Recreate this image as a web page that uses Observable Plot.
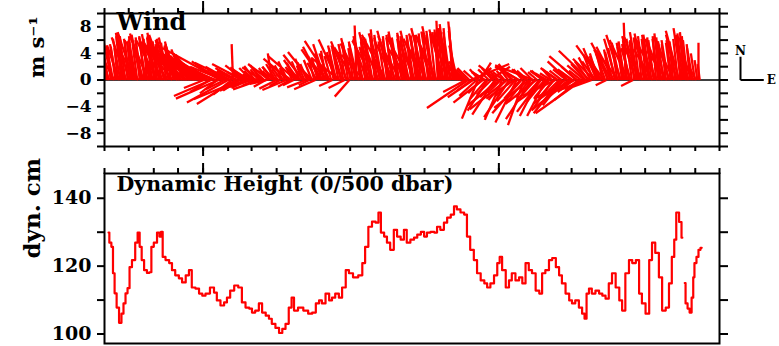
<!DOCTYPE html>
<html>
<head>
<meta charset="utf-8">
<script src="https://cdn.jsdelivr.net/npm/d3@7"></script>
<script src="https://cdn.jsdelivr.net/npm/@observablehq/plot@0.6"></script>
<style>
  body { margin: 0; background: #fff; }
  #chart svg { display: block; }
</style>
</head>
<body>
<div id="chart"></div>
<script>
// Record period (UTC)
const startDate = new Date(Date.UTC(1991, 8, 1));
const endDate = new Date(Date.UTC(1993, 9, 1));

// Wind sticks (m/s): one every 3 days from the start of the record ...
const windStepDays = 3;
const windV = [
  7.2, 6.8, 5.0, 5.6, 4.8, 5.4, 5.2, 6.6, 7.1, 6.4,
  6.9, 5.8, 7.2, 6.1, 4.5, 6.8, 7.0, 5.5, 6.3, 6.9,
  6.4, 7.1, 5.9, 6.6, 4.9, 6.8, 5.7, 6.2, 5.1, 6.0,
  5.8, 4.6, 5.5, 3.9, 5.2, 4.4, 3.1, 4.8, 2.6, 4.1,
  3.8, -1.2, 4.6, 2.2, -2.4, 3.5, 1.4, -2.8, 4.8, 2.0,
  1.8, -3.4, 2.6, 5.4, -3.6, 1.2, -2.9, 2.4, -1.6, 1.9,
  1.6, -1.0, 2.1, 0.8, -1.4, 1.9, 1.2, -0.6, 2.4, 4.0,
  2.0, -1.3, 1.4, 2.6, 0.9, -1.5, 3.2, 1.7, -0.8, 3.6,
  3.0, 1.2, 3.8, -1.1, 2.6, 4.2, 1.8, -1.4, 3.4, 5.0,
  4.6, 5.4, 2.8, 5.9, -0.9, 4.2, 6.1, 3.3, 5.2, -1.2,
  5.8, -2.5, 6.3, 4.9, 8.2, 5.5, 6.6, 3.8, 6.1, 5.0,
  7.2, 5.9, 7.6, 6.4, 4.8, 7.0, 6.8, 5.2, 7.4, 6.0,
  6.6, 7.3, 5.4, 6.9, 7.1, 4.6, 6.3, 7.4, 5.8, 6.7,
  7.0, 6.2, 7.8, 5.6, 7.3, 6.8, 8.1, 6.4, 8.9, 7.2,
  7.6, 8.4, 6.9, 7.8, 8.8, 6.2, 3.4, 2.2, 1.6, -1.8,
  -4.2, 2.4, -2.6, 1.8, -5.8, 2.6, -3.4, 1.2, -4.6, 2.0,
  1.8, -5.2, 2.2, -3.8, -6.0, 1.4, -4.4, -5.6, 2.4, -2.8,
  -6.4, 2.0, -5.0, -6.8, 1.6, -4.2, -5.9, 2.2, -3.6, -5.4,
  -4.8, 1.4, -5.4, -3.2, 1.0, -4.6, -2.4, 1.8, -5.0, -3.8,
  -3.6, 2.8, -4.4, 1.6, -2.8, 3.6, -3.0, -5.0, 2.2, -1.6,
  4.4, -1.0, 3.2, 4.8, 2.4, 5.2, 3.6, -0.8, 4.6, 5.6,
  5.0, 6.2, 4.4, 6.8, 5.6, 8.6, 6.0, 4.8, -0.9, 6.6,
  7.2, 6.4, 5.2, 7.0, 6.0, 6.8, 4.6, 6.2, 5.8, 7.0,
  5.6, 6.2, 4.4, 5.8, 6.0, 5.0, 6.8, 7.4, 7.8, 7.2,
  6.4, 5.2, 4.4, 3.6, 2.2, 5.6
];
const windU = [
  -1.5, -1.0, -2.0, -1.2, -2.5, -1.0, -1.8, -0.8, -1.2, -2.2,
  -1.8, -0.6, -2.4, -1.1, -3.0, -1.4, -2.0, -0.9, -2.6, -1.3,
  -2.1, -1.2, -3.2, -1.7, -2.8, -2.4, -3.6, -2.0, -4.0, -2.9,
  -4.2, -5.0, -6.1, -3.8, -7.0, -4.6, -3.2, -6.8, -2.9, -5.7,
  -7.5, -3.0, -8.2, -4.4, -5.6, -7.0, -3.6, -6.4, -8.8, -5.0,
  -4.0, -6.2, -5.4, -0.2, -5.8, -3.2, -7.0, -4.6, -3.8, -2.6,
  -2.8, -3.4, -1.6, -2.2, -4.0, -3.0, -1.4, -2.6, -3.2, -0.6,
  -1.8, -2.6, -3.4, -2.0, -1.2, -3.6, -3.8, -2.4, -1.6, -4.2,
  -2.2, -1.4, -3.0, -2.8, -1.6, -3.4, -2.0, -3.2, -1.0, -2.6,
  -3.2, -1.8, -2.6, -3.8, -2.0, -1.2, -2.8, -4.2, -1.6, -2.4,
  -2.4, -2.2, -1.6, -3.0, -0.3, -2.8, -1.2, -3.4, -2.0, -1.4,
  -1.8, -3.2, -0.8, -2.6, -1.6, -2.2, -3.6, -1.0, -2.0, -2.8,
  -2.6, -1.4, -3.0, -2.2, -1.2, -2.8, -3.4, -1.8, -2.4, -1.0,
  -1.6, -2.8, -2.0, -3.2, -1.2, -2.4, -1.8, -3.0, -0.4, -1.4,
  -2.2, -1.0, -2.6, -1.8, -0.8, -3.0, -2.4, -3.6, -2.0, -3.4,
  -6.2, 5.8, -3.8, 2.4, -2.4, 1.6, -4.4, -2.0, -3.0, 3.0,
  -1.6, -3.4, -2.8, -4.8, -2.6, -1.2, -5.6, -3.8, -2.0, -4.2,
  -3.2, -3.6, -4.4, -2.4, -2.2, -5.2, -3.8, -5.8, -4.6, -2.8,
  -3.6, -2.0, -2.8, -4.6, -1.6, -3.2, -5.0, -2.6, -4.0, -3.0,
  -4.8, -3.0, -5.6, -2.2, -6.2, -4.2, -3.8, -7.0, -2.6, -4.4,
  -4.6, -2.8, -3.2, -2.0, -1.4, -3.8, -2.6, -1.6, -2.2, -3.0,
  -2.6, -1.8, -3.4, -2.2, -1.0, -0.3, -2.8, -1.4, -1.8, -2.0,
  -1.2, -2.4, -3.0, -1.6, -2.0, -1.0, -2.8, -1.4, -3.2, -0.8,
  -2.2, -1.4, -3.0, -1.8, -0.8, -2.6, -1.6, -2.0, -1.2, -0.6,
  -1.0, -1.8, -1.4, -2.0, -1.2, 0.0
];
// ... and the intermediate observations, half a step later
const windMidOffsetDays = 1.5;
const windMidV = [
  6.4, 5.6, 4.6, 5.2, 5.0, 4.8, 6.2, 6.8, 6.6, 6.0,
  6.2, 6.6, 5.8, 5.4, 6.4, 6.0, 6.6, 6.2, 5.8, 6.4,
  6.6, 5.8, 6.2, 5.4, 6.0, 5.6, 6.4, 5.2, 5.8, 5.4,
  5.2, 5.0, 4.6, 4.2, 4.0, 3.6, 3.8, 3.2, 3.0, 2.8,
  2.6, 3.0, 2.2, -1.8, 2.4, 1.6, -2.0, 2.8, 1.8, -1.4,
  1.6, 2.0, -2.2, 1.4, 1.8, -1.6, 1.2, 2.2, 1.0, -1.2,
  1.8, 1.4, -0.8, 1.6, 2.2, 1.0, -1.0, 1.8, 1.4, 2.0,
  2.4, 1.6, -0.9, 2.2, 1.8, 2.8, -1.0, 2.0, 2.6, 1.8,
  2.8, 2.2, 3.2, 2.4, -0.8, 3.0, 3.6, 2.6, 3.2, 4.0,
  3.8, 4.4, 4.0, 3.6, 4.8, 5.2, 4.6, 5.0, 4.2, 5.4,
  5.2, 5.6, 4.8, 5.8, 5.4, 6.0, 5.6, 6.2, 5.8, 6.4,
  6.2, 6.6, 6.0, 6.8, 6.4, 5.8, 6.6, 6.2, 6.8, 6.4,
  6.0, 6.4, 6.8, 6.2, 6.6, 6.0, 6.8, 6.4, 6.2, 6.6,
  6.8, 7.0, 6.6, 7.2, 6.8, 7.4, 7.0, 7.6, 7.2, 7.8,
  7.4, 7.8, 7.2, 8.0, 7.4, 5.2, 2.8, 1.8, 1.4, 1.6,
  1.8, -1.6, 1.4, -2.4, 1.6, -2.0, 1.2, -2.8, 1.6, -2.2,
  1.4, -2.6, 1.8, -2.0, 1.2, -3.0, 1.6, -2.4, 1.4, -3.2,
  1.2, -2.8, 1.6, -3.4, 1.4, -2.6, 1.8, -3.0, 1.2, -2.2,
  1.4, -3.2, 1.0, -2.6, 1.6, -2.8, 1.2, -2.0, 1.4, -2.4,
  1.6, -2.2, 1.2, -1.8, 2.0, -1.6, 1.4, -1.2, 2.4, 2.8,
  3.4, 3.8, 2.8, 4.0, 3.6, 4.4, 4.0, 3.8, 4.6, 4.2,
  4.8, 5.2, 5.6, 5.0, 5.8, 6.0, 5.4, 6.2, 5.8, 6.0,
  6.4, 6.0, 6.6, 6.2, 6.8, 6.4, 6.0, 6.6, 6.2, 6.4,
  5.8, 5.4, 6.0, 5.6, 5.2, 5.8, 6.2, 6.8, 7.0, 6.6,
  6.0, 5.4, 4.8, 4.0, 3.0, 2.4
];
const windMidU = [
  -0.6, -0.9, -0.4, -1.0, -0.7, -0.5, -1.1, -0.6, -0.8, -0.4,
  -0.9, -0.5, -1.2, -0.7, -0.6, -1.0, -0.8, -0.5, -1.1, -0.7,
  -1.0, -0.6, -1.4, -0.9, -1.2, -0.8, -1.5, -1.0, -1.3, -1.6,
  -2.0, -2.4, -1.8, -2.8, -2.2, -3.0, -2.6, -3.4, -2.8, -3.6,
  -3.2, -4.0, -3.6, -3.0, -4.4, -3.8, -2.6, -4.2, -3.4, -2.8,
  -3.0, -3.6, -2.8, -2.6, -3.2, -2.4, -2.2, -2.8, -2.0, -2.6,
  -1.8, -1.4, -2.0, -1.2, -1.6, -1.0, -1.8, -1.4, -1.2, -1.6,
  -1.4, -1.0, -1.6, -1.2, -0.8, -1.4, -1.8, -1.0, -1.2, -1.6,
  -1.2, -0.8, -1.4, -1.0, -1.6, -1.2, -0.9, -1.4, -1.1, -1.0,
  -1.2, -0.8, -1.4, -1.0, -0.7, -1.2, -0.9, -1.3, -0.8, -1.1,
  -0.9, -1.2, -0.7, -1.0, -1.3, -0.8, -1.1, -0.6, -1.0, -0.9,
  -1.1, -0.7, -1.0, -0.8, -1.2, -0.9, -0.6, -1.0, -0.8, -1.2,
  -0.8, -1.1, -0.6, -1.0, -0.9, -1.2, -0.7, -1.0, -0.8, -0.6,
  -0.9, -0.7, -1.1, -0.8, -0.6, -1.0, -0.8, -0.5, -0.9, -0.7,
  -0.8, -0.6, -1.0, -0.5, -0.9, -1.2, -1.6, -1.8, -1.4, -1.6,
  -1.8, -2.2, -1.6, -2.6, -1.4, -2.0, -1.8, -2.4, -1.6, -2.2,
  -1.4, -2.4, -1.8, -2.0, -1.6, -2.6, -1.2, -2.2, -1.6, -2.8,
  -1.8, -2.4, -1.4, -2.8, -1.6, -2.2, -1.8, -2.6, -1.4, -2.0,
  -1.6, -2.6, -1.8, -2.2, -1.4, -2.4, -1.6, -2.0, -1.8, -2.6,
  -2.0, -2.8, -1.6, -2.4, -2.2, -2.0, -1.8, -2.6, -2.2, -2.0,
  -1.8, -1.4, -2.0, -1.2, -1.6, -1.0, -1.4, -1.2, -0.9, -1.1,
  -1.0, -0.8, -1.2, -0.7, -0.9, -0.6, -1.1, -0.8, -0.7, -1.0,
  -0.8, -0.6, -0.9, -0.7, -1.0, -0.6, -0.8, -0.5, -0.9, -0.7,
  -0.8, -0.6, -1.0, -0.7, -0.5, -0.9, -0.7, -0.6, -0.8, -0.5,
  -0.7, -0.5, -0.8, -0.6, -0.4, -0.3
];

// Dynamic height (0/500 dbar), dyn. cm; day = days since start; null = no data
const heightDay = [
  5, 7, 10, 11, 14, 16, 20, 22, 25, 27, 30, 32, 36, 40, 42, 45, 47, 51, 54, 57,
  59, 63, 67, 69, 71, 73, 78, 82, 85, 90, 94, 98, 103, 106, 110, 115, 119, 123, 127, 134,
  137, 141, 146, 150, 153, 158, 163, 168, 172, 177, 181, 184, 189, 193, 197, 202, 205, 209, 214, 218,
  222, 226, 230, 233, 236, 243, 249, 255, 259, 264, 267, 271, 276, 280, 283, 288, 292, 296, 301, 304,
  311, 317, 321, 324, 329, 333, 338, 340, 344, 348, 351, 356, 360, 364, 369, 372, 376, 381, 385, 389,
  394, 397, 401, 406, 410, 413, 418, 422, 426, 431, 434, 438, 443, 447, 450, 455, 459, 463, 468, 472,
  475, 480, 484, 488, 490, 494, 499, 502, 506, 511, 515, 519, 523, 527, 531, 536, 540, 543, 548, 552,
  556, 561, 564, 568, 573, 577, 580, 585, 589, 593, 595, 598, 601, 605, 610, 614, 618, 622, 626, 630,
  635, 639, 642, 647, 651, 655, 660, 663, 667, 672, 676, 679, 684, 688, 692, 697, 700, 704, 706, 709,
  713, 715, 716, 718, 720, 723, 725, 728, 729, 731, 734, 736, 739
];
const height = [
  129.9, 126.9, 125.7, 117.9, 112.0, 107.8, 103.3, 106.0, 109.0, 112.0, 113.5, 119.7, 121.8, 126.9, 129.9, 125.7, 121.8, 118.8, 118.0, 118.2,
  125.7, 126.9, 129.9, 128.7, 130.1, 122.7, 121.8, 120.9, 118.8, 117.3, 116.4, 115.2, 117.3, 118.8, 113.7, 113.4, 111.9, 111.3, 111.9, 113.7,
  112.2, 109.9, 108.4, 109.3, 110.7, 112.8, 114.3, 113.7, 109.3, 107.8, 107.5, 106.3, 106.9, 109.0, 106.3, 105.4, 104.5, 103.0, 101.8, 100.3,
  101.5, 103.0, 107.8, 110.7, 106.9, 107.8, 106.9, 106.0, 106.3, 109.0, 109.9, 109.0, 111.9, 109.9, 110.7, 111.9, 110.7, 113.7, 118.8, 117.9,
  116.7, 117.3, 120.9, 125.7, 131.6, 133.1, 132.8, 135.8, 129.9, 128.7, 126.9, 124.8, 130.7, 128.7, 127.8, 130.7, 126.9, 127.8, 128.4, 129.3,
  130.1, 128.7, 129.9, 130.1, 129.9, 131.6, 130.7, 132.8, 134.3, 135.2, 137.6, 136.7, 135.8, 135.2, 128.7, 124.8, 121.8, 117.9, 115.8, 114.9,
  113.7, 114.9, 117.3, 120.9, 122.7, 118.8, 113.7, 115.8, 117.9, 115.8, 116.7, 114.9, 120.9, 118.8, 117.9, 112.8, 111.9, 117.9, 118.8, 121.8,
  122.4, 119.7, 117.3, 114.9, 111.9, 109.9, 109.0, 109.9, 107.8, 106.0, 104.5, 111.9, 113.4, 111.9, 112.8, 111.9, 111.3, 110.4, 114.9, 117.9,
  113.7, 109.9, 106.9, 117.9, 121.8, 120.9, 121.8, 111.9, 109.0, 106.0, 121.8, 126.9, 123.9, 116.7, 106.9, 107.8, 114.9, 122.7, 127.8, 135.8,
  133.0, 128.4, null, 115.0, 109.0, 107.5, 106.3, 110.7, 116.7, 120.9, 122.7, 124.8, 125.4
];

// Axis ticks
const windTicks = [-8, -4, 0, 4, 8];
const windMinorTicks = [-10, -8, -6, -4, -2, 0, 2, 4, 6, 8, 10];
const heightTicks = [100, 120, 140];
const heightMinorTicks = [100, 110, 120, 130, 140];
const keySpeed = 3.5;

// Layout
const W = 779;
const mL = 104, mR = 60;
const topH = 160, topMT = 13, topMB = 14;
const botH = 186, botMT = 13, botMB = 3;
const windDomain = [-10, 10];
const heightDomain = [97.2, 147.3];
const FONT = "'DejaVu Serif', 'Liberation Serif', serif";

const dayMs = 864e5;
const dayToDate = (d) => new Date(+startDate + d * dayMs);

// Sticks share one pixel scale in both directions: convert u (m/s) to a time offset
const pxPerMs = (W - mL - mR) / (endDate - startDate);
const pxPerUnit = (topH - topMT - topMB) / (windDomain[1] - windDomain[0]);
const msPerUnit = pxPerUnit / pxPerMs;

const sticks = [
  ...windV.map((v, i) => ({date: dayToDate(i * windStepDays), u: windU[i], v})),
  ...windMidV.map((v, i) => ({date: dayToDate(i * windStepDays + windMidOffsetDays), u: windMidU[i], v}))
];
const heightData = heightDay.map((d, i) => ({date: dayToDate(d), value: height[i]}));

const monthTicks = d3.utcMonth.range(startDate, d3.utcDay.offset(endDate, 1));
const yearTicks = d3.utcYear.range(startDate, endDate);
const blank = () => "";
const signed = (d) => (d < 0 ? "\u2212" + (-d) : String(d));

const axisStyle = {stroke: "black", strokeWidth: 2, label: null};

const windPlot = Plot.plot({
  width: W, height: topH,
  marginLeft: mL, marginRight: mR, marginTop: topMT, marginBottom: topMB,
  x: {type: "utc", domain: [startDate, endDate], axis: null},
  y: {domain: windDomain, axis: null},
  style: {fontFamily: FONT, fontWeight: "bold", color: "black", background: "white", overflow: "visible"},
  marks: [
    Plot.ruleY([0], {stroke: "black", strokeWidth: 1.5}),
    Plot.link(sticks, {
      x1: "date", y1: () => 0,
      x2: (d) => new Date(+d.date + d.u * msPerUnit), y2: "v",
      stroke: "red", strokeWidth: 2.3, clip: true
    }),
    Plot.frame({stroke: "black", strokeWidth: 2}),
    Plot.axisX({anchor: "top", ticks: monthTicks, tickSize: 6, tickFormat: blank, ...axisStyle}),
    Plot.axisX({anchor: "top", ticks: yearTicks, tickSize: 13, tickFormat: blank, ...axisStyle}),
    Plot.axisX({anchor: "bottom", ticks: monthTicks, tickSize: 5, tickFormat: blank, ...axisStyle}),
    Plot.axisX({anchor: "bottom", ticks: yearTicks, tickSize: 10, tickFormat: blank, ...axisStyle}),
    Plot.axisY({anchor: "left", ticks: windMinorTicks, tickSize: 7, tickPadding: 6, fontSize: 17,
      tickFormat: (d) => (windTicks.includes(d) ? signed(d) : ""), ...axisStyle}),
    Plot.axisY({anchor: "right", ticks: windMinorTicks, tickSize: 8, tickFormat: blank, ...axisStyle}),
    Plot.text(["Wind"], {frameAnchor: "top-left", dx: 12, dy: -1, lineAnchor: "top",
      textAnchor: "start", fontSize: 24, fill: "black"}),
    Plot.text(["m s\u207B\u00B9"], {frameAnchor: "left", dx: -67, dy: -2, rotate: -90,
      fontSize: 21, fill: "black"}),
    // velocity key: north and east components
    Plot.link([{x: endDate}], {x1: "x", x2: "x", y1: () => 0, y2: () => keySpeed,
      dx: 21, stroke: "black", strokeWidth: 2}),
    Plot.link([{x: endDate}], {x1: "x", x2: (d) => new Date(+d.x + keySpeed * msPerUnit),
      y1: () => 0, y2: () => 0, dx: 21, stroke: "black", strokeWidth: 2}),
    Plot.text([{x: endDate}], {x: "x", y: () => keySpeed, text: () => "N", dx: 21, dy: -2,
      lineAnchor: "bottom", fontSize: 12, fill: "black"}),
    Plot.text([{x: new Date(+endDate + keySpeed * msPerUnit)}], {x: "x", y: () => 0, text: () => "E",
      dx: 24, textAnchor: "start", fontSize: 12, fill: "black"})
  ]
});

const heightPlot = Plot.plot({
  width: W, height: botH,
  marginLeft: mL, marginRight: mR, marginTop: botMT, marginBottom: botMB,
  x: {type: "utc", domain: [startDate, endDate], axis: null},
  y: {domain: heightDomain, axis: null},
  style: {fontFamily: FONT, fontWeight: "bold", color: "black", background: "white", overflow: "visible"},
  marks: [
    Plot.line(heightData, {x: "date", y: "value", curve: "step", stroke: "red", strokeWidth: 2.2, clip: true}),
    Plot.frame({stroke: "black", strokeWidth: 2}),
    Plot.axisX({anchor: "top", ticks: monthTicks, tickSize: 6, tickFormat: blank, ...axisStyle}),
    Plot.axisX({anchor: "top", ticks: yearTicks, tickSize: 11, tickFormat: blank, ...axisStyle}),
    Plot.axisY({anchor: "left", ticks: heightMinorTicks, tickSize: 7, tickPadding: 6, fontSize: 19,
      tickFormat: (d) => (heightTicks.includes(d) ? String(d) : ""), ...axisStyle}),
    Plot.axisY({anchor: "right", ticks: heightMinorTicks, tickSize: 8, tickFormat: blank, ...axisStyle}),
    Plot.text(["Dynamic Height (0/500 dbar)"], {frameAnchor: "top-left", dx: 12, dy: 3,
      lineAnchor: "top", textAnchor: "start", fontSize: 20.5, fill: "black"}),
    Plot.text(["dyn. cm"], {frameAnchor: "left", dx: -72, rotate: -90, fontSize: 23, fill: "black"})
  ]
});

const chart = document.getElementById("chart");
chart.appendChild(windPlot);
chart.appendChild(heightPlot);
</script>
</body>
</html>
